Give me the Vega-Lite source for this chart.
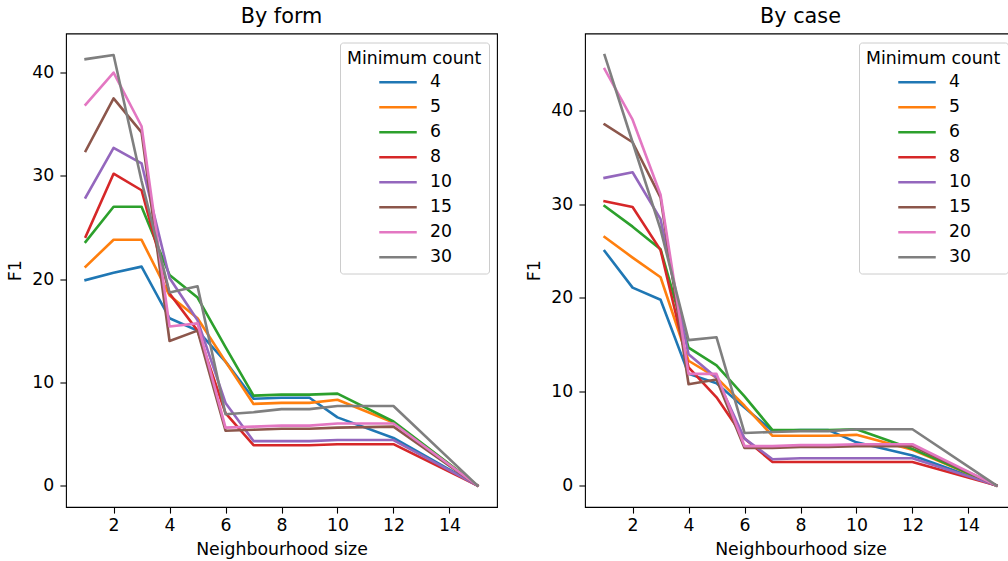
{
 "$schema": "https://vega.github.io/schema/vega-lite/v6.json",
 "background": "white",
 "padding": {"left": 6, "top": 5.5, "right": 0, "bottom": 0},
 "config": {
  "font": "DejaVu Sans",
  "view": {"stroke": "black", "strokeWidth": 1.1},
  "axis": {"grid": false, "domain": false, "tickColor": "black", "tickSize": 6.1, "tickWidth": 1.1, "labelFont": "DejaVu Sans", "labelFontSize": 17.3, "labelColor": "black", "labelPadding": 6.1, "titleFont": "DejaVu Sans", "titleFontSize": 17.3, "titleFontWeight": "normal", "titleColor": "black"},
  "axisX": {"titlePadding": 7, "labelPadding": 3.5},
  "axisY": {"titlePadding": 7},
  "title": {"font": "DejaVu Sans", "fontSize": 20.8, "fontWeight": "normal", "color": "black", "offset": 5.5},
  "legend": {"orient": "top-right", "offset": 8.5, "padding": 7, "strokeColor": "#cccccc", "fillColor": "rgba(255,255,255,0.8)", "cornerRadius": 3, "titleFont": "DejaVu Sans", "titleFontSize": 17.3, "titleFontWeight": "normal", "titleColor": "black", "titlePadding": 1.5, "labelFont": "DejaVu Sans", "labelFontSize": 17.3, "labelColor": "black", "labelOffset": 18, "symbolType": "M-1.5,0H1.5", "symbolSize": 625, "symbolStrokeWidth": 2.6, "symbolOffset": 37, "rowPadding": 2},
  "concat": {"spacing": 27}
 },
 "data": {"values": [
  {"p":"By form","c":4,"n":1,"f1":19.9},{"p":"By form","c":4,"n":2,"f1":20.6},{"p":"By form","c":4,"n":3,"f1":21.2},{"p":"By form","c":4,"n":4,"f1":16.2},{"p":"By form","c":4,"n":5,"f1":15.0},{"p":"By form","c":4,"n":6,"f1":12.0},{"p":"By form","c":4,"n":7,"f1":8.4},{"p":"By form","c":4,"n":8,"f1":8.5},{"p":"By form","c":4,"n":9,"f1":8.5},{"p":"By form","c":4,"n":10,"f1":6.6},{"p":"By form","c":4,"n":12,"f1":4.6},{"p":"By form","c":4,"n":15,"f1":0},
  {"p":"By form","c":5,"n":1,"f1":21.2},{"p":"By form","c":5,"n":2,"f1":23.8},{"p":"By form","c":5,"n":3,"f1":23.8},{"p":"By form","c":5,"n":4,"f1":18.4},{"p":"By form","c":5,"n":5,"f1":16.2},{"p":"By form","c":5,"n":6,"f1":12.0},{"p":"By form","c":5,"n":7,"f1":7.9},{"p":"By form","c":5,"n":8,"f1":8.0},{"p":"By form","c":5,"n":9,"f1":8.0},{"p":"By form","c":5,"n":10,"f1":8.3},{"p":"By form","c":5,"n":12,"f1":6.1},{"p":"By form","c":5,"n":15,"f1":0},
  {"p":"By form","c":6,"n":1,"f1":23.6},{"p":"By form","c":6,"n":2,"f1":27.0},{"p":"By form","c":6,"n":3,"f1":27.0},{"p":"By form","c":6,"n":4,"f1":20.4},{"p":"By form","c":6,"n":5,"f1":18.2},{"p":"By form","c":6,"n":6,"f1":13.4},{"p":"By form","c":6,"n":7,"f1":8.7},{"p":"By form","c":6,"n":8,"f1":8.8},{"p":"By form","c":6,"n":9,"f1":8.8},{"p":"By form","c":6,"n":10,"f1":8.9},{"p":"By form","c":6,"n":12,"f1":6.2},{"p":"By form","c":6,"n":15,"f1":0},
  {"p":"By form","c":8,"n":1,"f1":24.1},{"p":"By form","c":8,"n":2,"f1":30.2},{"p":"By form","c":8,"n":3,"f1":28.6},{"p":"By form","c":8,"n":4,"f1":18.6},{"p":"By form","c":8,"n":5,"f1":15.0},{"p":"By form","c":8,"n":6,"f1":7.0},{"p":"By form","c":8,"n":7,"f1":3.9},{"p":"By form","c":8,"n":8,"f1":3.9},{"p":"By form","c":8,"n":9,"f1":3.9},{"p":"By form","c":8,"n":10,"f1":4.0},{"p":"By form","c":8,"n":12,"f1":4.0},{"p":"By form","c":8,"n":15,"f1":0},
  {"p":"By form","c":10,"n":1,"f1":27.9},{"p":"By form","c":10,"n":2,"f1":32.7},{"p":"By form","c":10,"n":3,"f1":31.2},{"p":"By form","c":10,"n":4,"f1":20.1},{"p":"By form","c":10,"n":5,"f1":16.0},{"p":"By form","c":10,"n":6,"f1":8.0},{"p":"By form","c":10,"n":7,"f1":4.3},{"p":"By form","c":10,"n":8,"f1":4.3},{"p":"By form","c":10,"n":9,"f1":4.3},{"p":"By form","c":10,"n":10,"f1":4.4},{"p":"By form","c":10,"n":12,"f1":4.4},{"p":"By form","c":10,"n":15,"f1":0},
  {"p":"By form","c":15,"n":1,"f1":32.4},{"p":"By form","c":15,"n":2,"f1":37.5},{"p":"By form","c":15,"n":3,"f1":34.2},{"p":"By form","c":15,"n":4,"f1":14.0},{"p":"By form","c":15,"n":5,"f1":15.0},{"p":"By form","c":15,"n":6,"f1":5.3},{"p":"By form","c":15,"n":7,"f1":5.4},{"p":"By form","c":15,"n":8,"f1":5.5},{"p":"By form","c":15,"n":9,"f1":5.5},{"p":"By form","c":15,"n":10,"f1":5.6},{"p":"By form","c":15,"n":12,"f1":5.7},{"p":"By form","c":15,"n":15,"f1":0},
  {"p":"By form","c":20,"n":1,"f1":36.9},{"p":"By form","c":20,"n":2,"f1":40.0},{"p":"By form","c":20,"n":3,"f1":34.8},{"p":"By form","c":20,"n":4,"f1":15.4},{"p":"By form","c":20,"n":5,"f1":15.7},{"p":"By form","c":20,"n":6,"f1":5.6},{"p":"By form","c":20,"n":7,"f1":5.7},{"p":"By form","c":20,"n":8,"f1":5.8},{"p":"By form","c":20,"n":9,"f1":5.8},{"p":"By form","c":20,"n":10,"f1":6.0},{"p":"By form","c":20,"n":12,"f1":6.0},{"p":"By form","c":20,"n":15,"f1":0},
  {"p":"By form","c":30,"n":1,"f1":41.3},{"p":"By form","c":30,"n":2,"f1":41.7},{"p":"By form","c":30,"n":3,"f1":29.5},{"p":"By form","c":30,"n":4,"f1":18.7},{"p":"By form","c":30,"n":5,"f1":19.3},{"p":"By form","c":30,"n":6,"f1":6.9},{"p":"By form","c":30,"n":7,"f1":7.1},{"p":"By form","c":30,"n":8,"f1":7.4},{"p":"By form","c":30,"n":9,"f1":7.4},{"p":"By form","c":30,"n":10,"f1":7.7},{"p":"By form","c":30,"n":12,"f1":7.7},{"p":"By form","c":30,"n":15,"f1":0},
  {"p":"By case","c":4,"n":1,"f1":25.0},{"p":"By case","c":4,"n":2,"f1":21.1},{"p":"By case","c":4,"n":3,"f1":19.8},{"p":"By case","c":4,"n":4,"f1":11.9},{"p":"By case","c":4,"n":5,"f1":10.9},{"p":"By case","c":4,"n":6,"f1":8.3},{"p":"By case","c":4,"n":7,"f1":5.8},{"p":"By case","c":4,"n":8,"f1":5.9},{"p":"By case","c":4,"n":9,"f1":5.9},{"p":"By case","c":4,"n":10,"f1":4.6},{"p":"By case","c":4,"n":12,"f1":3.2},{"p":"By case","c":4,"n":15,"f1":0},
  {"p":"By case","c":5,"n":1,"f1":26.5},{"p":"By case","c":5,"n":2,"f1":24.3},{"p":"By case","c":5,"n":3,"f1":22.2},{"p":"By case","c":5,"n":4,"f1":13.3},{"p":"By case","c":5,"n":5,"f1":11.5},{"p":"By case","c":5,"n":6,"f1":8.5},{"p":"By case","c":5,"n":7,"f1":5.3},{"p":"By case","c":5,"n":8,"f1":5.3},{"p":"By case","c":5,"n":9,"f1":5.3},{"p":"By case","c":5,"n":10,"f1":5.4},{"p":"By case","c":5,"n":12,"f1":3.8},{"p":"By case","c":5,"n":15,"f1":0},
  {"p":"By case","c":6,"n":1,"f1":29.8},{"p":"By case","c":6,"n":2,"f1":27.6},{"p":"By case","c":6,"n":3,"f1":25.2},{"p":"By case","c":6,"n":4,"f1":14.7},{"p":"By case","c":6,"n":5,"f1":12.8},{"p":"By case","c":6,"n":6,"f1":9.5},{"p":"By case","c":6,"n":7,"f1":5.9},{"p":"By case","c":6,"n":8,"f1":5.9},{"p":"By case","c":6,"n":9,"f1":5.9},{"p":"By case","c":6,"n":10,"f1":6.0},{"p":"By case","c":6,"n":12,"f1":3.9},{"p":"By case","c":6,"n":15,"f1":0},
  {"p":"By case","c":8,"n":1,"f1":30.3},{"p":"By case","c":8,"n":2,"f1":29.7},{"p":"By case","c":8,"n":3,"f1":25.1},{"p":"By case","c":8,"n":4,"f1":12.6},{"p":"By case","c":8,"n":5,"f1":9.4},{"p":"By case","c":8,"n":6,"f1":5.0},{"p":"By case","c":8,"n":7,"f1":2.5},{"p":"By case","c":8,"n":8,"f1":2.5},{"p":"By case","c":8,"n":9,"f1":2.5},{"p":"By case","c":8,"n":10,"f1":2.5},{"p":"By case","c":8,"n":12,"f1":2.5},{"p":"By case","c":8,"n":15,"f1":0},
  {"p":"By case","c":10,"n":1,"f1":32.8},{"p":"By case","c":10,"n":2,"f1":33.4},{"p":"By case","c":10,"n":3,"f1":28.4},{"p":"By case","c":10,"n":4,"f1":14.0},{"p":"By case","c":10,"n":5,"f1":11.5},{"p":"By case","c":10,"n":6,"f1":5.0},{"p":"By case","c":10,"n":7,"f1":2.8},{"p":"By case","c":10,"n":8,"f1":2.9},{"p":"By case","c":10,"n":9,"f1":2.9},{"p":"By case","c":10,"n":10,"f1":2.9},{"p":"By case","c":10,"n":12,"f1":2.9},{"p":"By case","c":10,"n":15,"f1":0},
  {"p":"By case","c":15,"n":1,"f1":38.5},{"p":"By case","c":15,"n":2,"f1":36.6},{"p":"By case","c":15,"n":3,"f1":30.7},{"p":"By case","c":15,"n":4,"f1":10.8},{"p":"By case","c":15,"n":5,"f1":11.3},{"p":"By case","c":15,"n":6,"f1":4.0},{"p":"By case","c":15,"n":7,"f1":4.0},{"p":"By case","c":15,"n":8,"f1":4.1},{"p":"By case","c":15,"n":9,"f1":4.1},{"p":"By case","c":15,"n":10,"f1":4.2},{"p":"By case","c":15,"n":12,"f1":4.2},{"p":"By case","c":15,"n":15,"f1":0},
  {"p":"By case","c":20,"n":1,"f1":44.4},{"p":"By case","c":20,"n":2,"f1":39.0},{"p":"By case","c":20,"n":3,"f1":31.0},{"p":"By case","c":20,"n":4,"f1":11.9},{"p":"By case","c":20,"n":5,"f1":11.9},{"p":"By case","c":20,"n":6,"f1":4.2},{"p":"By case","c":20,"n":7,"f1":4.2},{"p":"By case","c":20,"n":8,"f1":4.3},{"p":"By case","c":20,"n":9,"f1":4.3},{"p":"By case","c":20,"n":10,"f1":4.4},{"p":"By case","c":20,"n":12,"f1":4.4},{"p":"By case","c":20,"n":15,"f1":0},
  {"p":"By case","c":30,"n":1,"f1":45.9},{"p":"By case","c":30,"n":2,"f1":36.6},{"p":"By case","c":30,"n":3,"f1":27.3},{"p":"By case","c":30,"n":4,"f1":15.5},{"p":"By case","c":30,"n":5,"f1":15.8},{"p":"By case","c":30,"n":6,"f1":5.6},{"p":"By case","c":30,"n":7,"f1":5.7},{"p":"By case","c":30,"n":8,"f1":5.8},{"p":"By case","c":30,"n":9,"f1":5.8},{"p":"By case","c":30,"n":10,"f1":6.0},{"p":"By case","c":30,"n":12,"f1":6.0},{"p":"By case","c":30,"n":15,"f1":0}
 ]},
 "hconcat": [
  {
   "title": "By form",
   "width": 431, "height": 473.5,
   "transform": [{"filter": "datum.p === 'By form'"}],
   "mark": {"type": "line", "strokeWidth": 2.6, "strokeJoin": "round", "strokeCap": "square"},
   "encoding": {
    "x": {"field": "n", "type": "quantitative", "scale": {"domain": [0.3, 15.7], "nice": false, "zero": false}, "axis": {"values": [2,4,6,8,10,12,14], "title": "Neighbourhood size"}},
    "y": {"field": "f1", "type": "quantitative", "scale": {"domain": [-2.085, 43.785], "nice": false, "zero": false}, "axis": {"values": [0,10,20,30,40], "title": "F1"}},
    "color": {"field": "c", "type": "ordinal", "scale": {"domain": [4,5,6,8,10,15,20,30], "range": ["#1f77b4","#ff7f0e","#2ca02c","#d62728","#9467bd","#8c564b","#e377c2","#7f7f7f"]}, "legend": {"title": "Minimum count"}}
   }
  },
  {
   "title": "By case",
   "width": 431, "height": 473.5,
   "transform": [{"filter": "datum.p === 'By case'"}],
   "mark": {"type": "line", "strokeWidth": 2.6, "strokeJoin": "round", "strokeCap": "square"},
   "encoding": {
    "x": {"field": "n", "type": "quantitative", "scale": {"domain": [0.3, 15.7], "nice": false, "zero": false}, "axis": {"values": [2,4,6,8,10,12,14], "title": "Neighbourhood size"}},
    "y": {"field": "f1", "type": "quantitative", "scale": {"domain": [-2.295, 48.195], "nice": false, "zero": false}, "axis": {"values": [0,10,20,30,40], "title": "F1"}},
    "color": {"field": "c", "type": "ordinal", "scale": {"domain": [4,5,6,8,10,15,20,30], "range": ["#1f77b4","#ff7f0e","#2ca02c","#d62728","#9467bd","#8c564b","#e377c2","#7f7f7f"]}, "legend": {"title": "Minimum count"}}
   }
  }
 ],
 "resolve": {"legend": {"color": "independent"}, "scale": {"y": "independent", "color": "independent"}}
}
